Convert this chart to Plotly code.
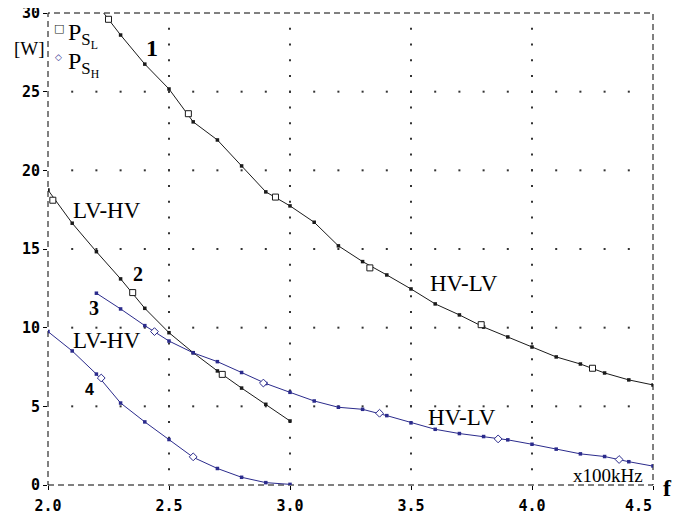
import numpy as np
import plotly.graph_objects as go

# ---- data ----
f_c1 = [2.2, 2.3, 2.4, 2.5, 2.6, 2.7, 2.8, 2.9, 3.0, 3.1, 3.2, 3.3, 3.4, 3.5,
        3.6, 3.7, 3.8, 3.9, 4.0, 4.1, 4.2, 4.3, 4.4, 4.5]
p_c1 = [30.6, 28.6, 26.75, 25.17, 23.08, 21.93, 20.28, 18.63, 17.74, 16.7, 15.2, 14.2,
        13.35, 12.46, 11.51, 10.81, 10.04, 9.41, 8.77, 8.14, 7.69, 7.12, 6.68, 6.36]

f_c2 = [2.0, 2.1, 2.2, 2.3, 2.4, 2.5, 2.6, 2.7, 2.8, 2.9, 3.0]
p_c2 = [18.75, 16.64, 14.83, 13.1, 11.23, 9.68, 8.41, 7.25, 6.16, 5.13, 4.07]

f_c3 = [2.2, 2.3, 2.4, 2.5, 2.6, 2.7, 2.8, 2.9, 3.0, 3.1, 3.2, 3.3, 3.4, 3.5,
        3.6, 3.7, 3.8, 3.9, 4.0, 4.1, 4.2, 4.3, 4.4, 4.5]
p_c3 = [12.19, 11.19, 10.13, 9.15, 8.4, 7.84, 7.15, 6.45, 5.89, 5.34, 4.94, 4.81,
        4.41, 3.95, 3.54, 3.27, 3.08, 2.87, 2.59, 2.28, 1.98, 1.81, 1.48, 1.20]

f_c4 = [2.0, 2.1, 2.2, 2.3, 2.4, 2.5, 2.6, 2.7, 2.8, 2.9, 3.0]
p_c4 = [9.75, 8.52, 7.05, 5.21, 4.01, 2.89, 1.76, 1.05, 0.49, 0.15, 0.04]

# open legend-symbol markers placed along the traces
sl_f = [2.25, 2.58, 2.94, 3.33, 3.79, 4.25, 2.02, 2.35, 2.72]
sl_p = [29.6, 23.6, 18.3, 13.8, 10.19, 7.42, 18.1, 12.23, 7.03]
sh_f = [2.44, 2.89, 3.37, 3.86, 4.36, 2.22, 2.6]
sh_p = [9.75, 6.48, 4.56, 2.93, 1.62, 6.8, 1.79]

x_ticks = [2.0, 2.5, 3.0, 3.5, 4.0, 4.5]
x_ticklabels = ["2.0", "2.5", "3.0", "3.5", "4.0", "4.5"]
y_ticks = [0, 5, 10, 15, 20, 25, 30]
y_ticklabels = ["0", "5", "10", "15", "20", "25", "30"]

legend_names = ["P<sub>S<sub>L</sub></sub>", "P<sub>S<sub>H</sub></sub>"]

BLACK = "#1a1a1a"
BLUE = "#2b2b8c"
SERIF = "Liberation Serif, Times New Roman, serif"
MONO = "DejaVu Sans Mono, monospace"
TICKFONT = dict(family=MONO, size=15, color="black", weight="bold")

fig = go.Figure()

# dotted grid (dots every 0.1 along major y rows, every 1 unit along major x columns)
gx, gy = [], []
for yv in y_ticks[1:-1]:
    for xv in np.arange(2.1, 4.45, 0.1):
        gx.append(xv); gy.append(yv)
for xv in x_ticks[1:-1]:
    for yv in np.arange(1, 30, 1):
        gx.append(xv); gy.append(yv)
fig.add_trace(go.Scatter(x=gx, y=gy, mode="markers", showlegend=False,
                         marker=dict(size=2, color="#333333", symbol="square"),
                         hoverinfo="skip"))

def curve(fx, py, color):
    fig.add_trace(go.Scatter(x=fx, y=py, mode="lines+markers", showlegend=False,
                             line=dict(color=color, width=1),
                             marker=dict(size=3.5, color=color, symbol="square")))

curve(f_c1, p_c1, BLACK)
curve(f_c2, p_c2, BLACK)
curve(f_c3, p_c3, BLUE)
curve(f_c4, p_c4, BLUE)

fig.add_trace(go.Scatter(x=sl_f, y=sl_p, mode="markers", showlegend=False,
                         marker=dict(size=6, color="white", symbol="square",
                                     line=dict(color=BLACK, width=1))))
fig.add_trace(go.Scatter(x=sh_f, y=sh_p, mode="markers", showlegend=False,
                         marker=dict(size=6, color="white", symbol="diamond",
                                     line=dict(color=BLUE, width=1))))

annotations = [
    dict(x=2.43, y=27.8, text="<b>1</b>", font=dict(size=24)),
    dict(x=2.37, y=13.4, text="<b>2</b>", font=dict(size=20)),
    dict(x=2.19, y=11.27, text="<b>3</b>", font=dict(size=20)),
    dict(x=2.17, y=6.1, text="<b>4</b>", font=dict(size=16,
                                                     family="Liberation Sans, Arial, sans-serif")),
    dict(x=2.245, y=17.45, text="LV-HV", font=dict(size=23)),
    dict(x=2.245, y=9.2, text="LV-HV", font=dict(size=23)),
    dict(x=3.72, y=12.78, text="HV-LV", font=dict(size=23)),
    dict(x=3.71, y=4.26, text="HV-LV", font=dict(size=23)),
    # legend
    dict(x=2.045, y=29.0, text="\u25a1", font=dict(size=11,
                                                   family="DejaVu Sans", color=BLACK)),
    dict(x=2.045, y=27.2, text="\u25c7", font=dict(size=9,
                                                   family="DejaVu Sans", color=BLUE)),
    dict(x=2.075, y=28.55, text=legend_names[0], font=dict(size=24), xanchor="left"),
    dict(x=2.075, y=26.75, text=legend_names[1], font=dict(size=24), xanchor="left"),
]
for a in annotations:
    a.setdefault("xanchor", "center")
    a.update(xref="x", yref="y", showarrow=False, yanchor="middle")
    a["font"].setdefault("family", SERIF)
    a["font"].setdefault("color", "black")

annotations.append(dict(xref="paper", yref="y", x=1, xshift=-8, y=0.63, text="x100kHz",
                        showarrow=False, xanchor="right", yanchor="middle",
                        font=dict(family=SERIF, size=19, color="black")))
annotations.append(dict(xref="paper", yref="paper", x=-0.002, y=0.925, text="[W]",
                        showarrow=False, xanchor="right", yanchor="middle",
                        font=dict(family=SERIF, size=19, color="black")))
annotations.append(dict(xref="paper", yref="paper", x=1, xshift=8, y=0, yshift=-3,
                        text="<b>f</b>", showarrow=False, xanchor="left", yanchor="middle",
                        font=dict(family=SERIF, size=24, color="black")))
# last x tick label is right-aligned to the axis end in the reference
annotations.append(dict(xref="x", yref="paper", x=x_ticks[-1], y=0, yshift=-21,
                        text=x_ticklabels[-1], showarrow=False, xanchor="right",
                        yanchor="middle", borderpad=0, font=TICKFONT))

# the page body adds an 8px offset, so the figure margins are reduced by 8px
fig.update_layout(
    width=681, height=516,
    margin=dict(l=40, r=36, t=5, b=39, autoexpand=False),
    paper_bgcolor="white", plot_bgcolor="white",
    annotations=annotations,
    showlegend=False,
    shapes=[dict(type="rect", xref="paper", yref="paper", x0=0, x1=1, y0=0, y1=1,
                 line=dict(color="black", width=1, dash="6px,4px"), layer="below")],
)
fig.update_xaxes(range=[2.0, 4.5], tickvals=x_ticks,
                 ticktext=x_ticklabels[:-1] + [""],
                 showgrid=False, zeroline=False, showline=False, automargin=False,
                 ticks="outside", ticklen=4, tickcolor="black", ticklabelstandoff=3,
                 ticklabeloverflow="allow", tickfont=TICKFONT)
fig.update_yaxes(range=[0, 30], tickvals=y_ticks, ticktext=y_ticklabels,
                 showgrid=False, zeroline=False, showline=False, automargin=False,
                 ticks="outside", ticklen=4, tickcolor="black",
                 ticklabeloverflow="allow", tickfont=TICKFONT)

fig.write_html("out.html")
